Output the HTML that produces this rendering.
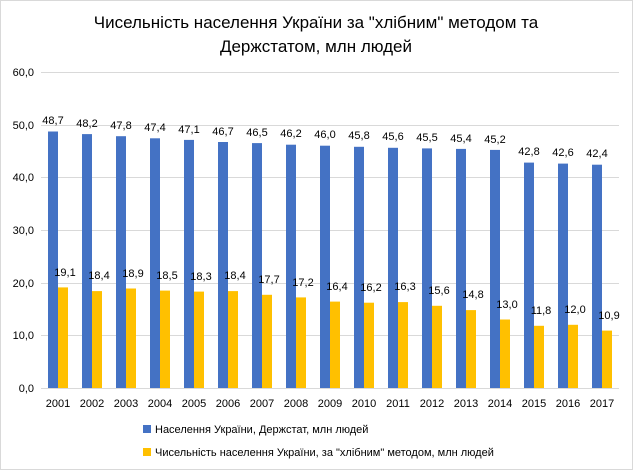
<!DOCTYPE html><html><head><meta charset="utf-8"><style>
body{margin:0;background:#fff}
svg{display:block;font-family:"Liberation Sans",sans-serif}
</style></head><body>
<svg width="633" height="470" viewBox="0 0 633 470">
<rect x="0.5" y="0.5" width="632" height="469" fill="#fff" stroke="#d9d9d9"/>
<text x="316" y="28" font-size="17" text-anchor="middle" fill="#000">Чисельність населення України за "хлібним" методом та</text>
<text x="316" y="52" font-size="17" text-anchor="middle" fill="#000">Держстатом, млн людей</text>
<g stroke="#d9d9d9" stroke-width="1">
<line x1="41" x2="619" y1="72.5" y2="72.5"/><line x1="41" x2="619" y1="125.5" y2="125.5"/><line x1="41" x2="619" y1="177.5" y2="177.5"/><line x1="41" x2="619" y1="230.5" y2="230.5"/><line x1="41" x2="619" y1="283.5" y2="283.5"/><line x1="41" x2="619" y1="335.5" y2="335.5"/><line x1="41" x2="619" y1="388.5" y2="388.5"/>
</g>
<g font-size="11" text-anchor="end" fill="#000">
<text x="34" y="76">60,0</text><text x="34" y="129">50,0</text><text x="34" y="181">40,0</text><text x="34" y="234">30,0</text><text x="34" y="287">20,0</text><text x="34" y="339">10,0</text><text x="34" y="392">0,0</text>
</g>
<g fill="#4472c4">
<rect x="48" y="131.5" width="10" height="256.5"/>
<rect x="82" y="134.1" width="10" height="253.9"/>
<rect x="116" y="136.2" width="10" height="251.8"/>
<rect x="150" y="138.3" width="10" height="249.7"/>
<rect x="184" y="139.9" width="10" height="248.1"/>
<rect x="218" y="142" width="10" height="246"/>
<rect x="252" y="143.1" width="10" height="244.9"/>
<rect x="286" y="144.7" width="10" height="243.3"/>
<rect x="320" y="145.7" width="10" height="242.3"/>
<rect x="354" y="146.8" width="10" height="241.2"/>
<rect x="388" y="147.8" width="10" height="240.2"/>
<rect x="422" y="148.4" width="10" height="239.6"/>
<rect x="456" y="148.9" width="10" height="239.1"/>
<rect x="490" y="149.9" width="10" height="238.1"/>
<rect x="524" y="162.6" width="10" height="225.4"/>
<rect x="558" y="163.6" width="10" height="224.4"/>
<rect x="592" y="164.7" width="10" height="223.3"/>
</g>
<g fill="#ffc000">
<rect x="58" y="287.4" width="10" height="100.6"/>
<rect x="92" y="291.1" width="10" height="96.9"/>
<rect x="126" y="288.5" width="10" height="99.5"/>
<rect x="160" y="290.6" width="10" height="97.4"/>
<rect x="194" y="291.6" width="10" height="96.4"/>
<rect x="228" y="291.1" width="10" height="96.9"/>
<rect x="262" y="294.8" width="10" height="93.2"/>
<rect x="296" y="297.4" width="10" height="90.6"/>
<rect x="330" y="301.6" width="10" height="86.4"/>
<rect x="364" y="302.7" width="10" height="85.3"/>
<rect x="398" y="302.1" width="10" height="85.9"/>
<rect x="432" y="305.8" width="10" height="82.2"/>
<rect x="466" y="310.1" width="10" height="77.9"/>
<rect x="500" y="319.5" width="10" height="68.5"/>
<rect x="534" y="325.8" width="10" height="62.2"/>
<rect x="568" y="324.8" width="10" height="63.2"/>
<rect x="602" y="330.6" width="10" height="57.4"/>
</g>
<g font-size="11" text-anchor="middle" fill="#000">
<text x="53" y="124">48,7</text><text x="87" y="127">48,2</text><text x="121" y="129">47,8</text><text x="155" y="131">47,4</text><text x="189" y="133">47,1</text><text x="223" y="135">46,7</text><text x="257" y="136">46,5</text><text x="291" y="137">46,2</text><text x="325" y="138">46,0</text><text x="359" y="139">45,8</text><text x="393" y="140">45,6</text><text x="427" y="141">45,5</text><text x="461" y="142">45,4</text><text x="495" y="143">45,2</text><text x="529" y="155">42,8</text><text x="563" y="156">42,6</text><text x="597" y="157">42,4</text>
<text x="65" y="276">19,1</text><text x="99" y="279">18,4</text><text x="133" y="277">18,9</text><text x="167" y="279">18,5</text><text x="201" y="280">18,3</text><text x="235" y="279">18,4</text><text x="269" y="283">17,7</text><text x="303" y="286">17,2</text><text x="337" y="290">16,4</text><text x="371" y="291">16,2</text><text x="405" y="290">16,3</text><text x="439" y="294">15,6</text><text x="473" y="298">14,8</text><text x="507" y="308">13,0</text><text x="541" y="314">11,8</text><text x="575" y="313">12,0</text><text x="609" y="319">10,9</text>
<text x="58" y="407">2001</text><text x="92" y="407">2002</text><text x="126" y="407">2003</text><text x="160" y="407">2004</text><text x="194" y="407">2005</text><text x="228" y="407">2006</text><text x="262" y="407">2007</text><text x="296" y="407">2008</text><text x="330" y="407">2009</text><text x="364" y="407">2010</text><text x="398" y="407">2011</text><text x="432" y="407">2012</text><text x="466" y="407">2013</text><text x="500" y="407">2014</text><text x="534" y="407">2015</text><text x="568" y="407">2016</text><text x="602" y="407">2017</text>
</g>
<rect x="143" y="425" width="8" height="8" fill="#4472c4"/>
<text x="155" y="433" font-size="11">Населення України, Держстат, млн людей</text>
<rect x="143" y="448" width="8" height="8" fill="#ffc000"/>
<text x="155" y="456" font-size="11">Чисельність населення України, за "хлібним" методом, млн людей</text>
</svg>
</body></html>
